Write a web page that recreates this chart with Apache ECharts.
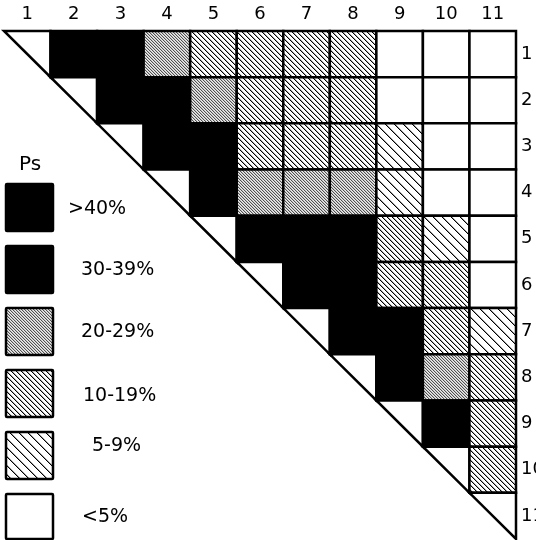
<!DOCTYPE html>
<html><head><meta charset="utf-8">
<script src="https://cdn.jsdelivr.net/npm/echarts@6/dist/echarts.min.js"></script>
<style>html,body{margin:0;padding:0;background:#fff}#c{width:536px;height:540px}</style>
</head><body><div id="c"></div>
<script>
// ---- data ----
const groups = ['1','2','3','4','5','6','7','8','9','10','11'];
const psClasses = ['>40%','30-39%','20-29%','10-19%','5-9%','<5%'];
const psLower = [40,30,20,10,5,0];
// Estimated Ps (%) for the upper triangle, row i from column i+1 onward
const row1 = [35,35,25,15,15,15,15,2,2,2];
const row2 = [45,45,25,15,15,15,2,2,2];
const row3 = [45,45,15,15,15,7,2,2];
const row4 = [45,25,25,25,7,2,2];
const row5 = [45,45,35,15,7,2];
const row6 = [45,35,15,15,2];
const row7 = [45,35,15,7];
const row8 = [45,25,15];
const row9 = [45,15];
const row10 = [15];
const row11 = [];
const rows = [row1,row2,row3,row4,row5,row6,row7,row8,row9,row10,row11];

// ---- patterns ----
function hatch(size, bg, on){
  const cv = document.createElement('canvas');
  cv.width = size; cv.height = size;
  const ctx = cv.getContext('2d');
  const img = ctx.createImageData(size, size);
  const parse = h => [parseInt(h.substr(1,2),16),parseInt(h.substr(3,2),16),parseInt(h.substr(5,2),16)];
  for (let y=0;y<size;y++) for (let x=0;x<size;x++){
    const k = ((x - y) % size + size) % size;
    const col = on[k] ? parse(on[k]) : parse(bg);
    const i = (y*size+x)*4;
    img.data[i]=col[0]; img.data[i+1]=col[1]; img.data[i+2]=col[2]; img.data[i+3]=255;
  }
  ctx.putImageData(img,0,0);
  return {image: cv, repeat: 'repeat'};
}
const fills = [
  '#000000',
  '#000000',
  hatch(3, '#ececec', {0:'#505050',1:'#c4c4c4'}),
  hatch(5, '#ffffff', {0:'#000000',1:'#aaaaaa'}),
  hatch(9, '#ffffff', {0:'#000000',1:'#999999'}),
  '#ffffff'
];
function classOf(v){ for (let k=0;k<psLower.length;k++) if (v>=psLower[k]) return k; return psLower.length-1; }

// ---- build cells ----
const cells = [];
rows.forEach((r, i) => {
  cells.push([i, i, null]);
  r.forEach((v, j) => cells.push([i + 1 + j, i, v]));
});

const chart = echarts.init(document.getElementById('c'), null, {renderer:'canvas'});
const labelFont = {fontFamily:'DejaVu Sans', fontSize:18, color:'#000'};

// legend graphics
const legendGraphics = [{type:'text', x:19, y:165, style:{text:'Ps', font:'20px "DejaVu Sans"', fill:'#000', verticalAlign:'middle'}}];
const legendLabelX = [68,81,81,83,92,82];
const legendLabelY = [209,270,332,396,446,517];
psClasses.forEach((name, k) => {
  const y = 184 + k*62;
  legendGraphics.push({type:'rect', shape:{x:6, y:y, width:47, height: k===5 ? 45 : 47, r:1},
    style:{fill: fills[k], stroke:'#000', lineWidth:2.5}});
  legendGraphics.push({type:'text', x:legendLabelX[k], y:legendLabelY[k],
    style:{text:name, font:'19px "DejaVu Sans"', fill:'#000', verticalAlign:'middle', align:'left'}});
});

chart.setOption({
  animation:false,
  backgroundColor:'#fff',
  grid:{left:4, top:31, width:512, height:508, containLabel:false, outerBoundsMode:'none'},
  xAxis:{type:'category', data:groups, position:'top',
    axisLine:{show:false}, axisTick:{show:false}, splitLine:{show:false},
    axisLabel:Object.assign({margin:8}, labelFont)},
  yAxis:{type:'category', data:groups, inverse:true, position:'right',
    axisLine:{show:false}, axisTick:{show:false}, splitLine:{show:false},
    axisLabel:Object.assign({margin:5}, labelFont)},
  graphic: legendGraphics,
  series:[{
    type:'custom',
    data:cells,
    renderItem:function(params, api){
      const c = api.value(0), r = api.value(1), v = api.value(2);
      const p = api.coord([c, r]);
      const s = api.size([1, 1]);
      const x0 = p[0] - s[0]/2, y0 = p[1] - s[1]/2;
      if (c === r) {
        return {type:'polygon', shape:{points:[[x0,y0],[x0+s[0],y0],[x0+s[0],y0+s[1]]]},
          style:{fill:'#fff', stroke:'#000', lineWidth:2.5}};
      }
      return {type:'rect', shape:{x:x0, y:y0, width:s[0], height:s[1]},
        style:{fill: fills[classOf(v)], stroke:'#000', lineWidth:2.5}};
    }
  }]
});
</script>
</body></html>
